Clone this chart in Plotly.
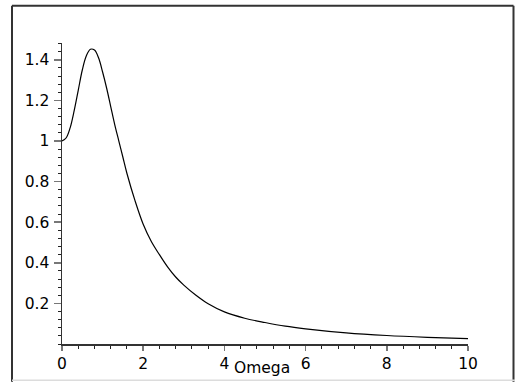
import plotly.graph_objects as go

# Data
omega = [0, 0.1, 0.2, 0.3, 0.4, 0.5, 0.6, 0.7, 0.8, 0.9, 1.0, 1.1, 1.2, 1.3,
         1.4, 1.5, 1.6, 1.8, 2.0, 2.2, 2.4, 2.6, 2.8, 3.0, 3.3, 3.6, 4.0,
         4.5, 5.0, 5.5, 6.0, 7.0, 8.0, 9.0, 10.0]
magnitude = [1.0, 1.015, 1.065, 1.15, 1.25, 1.35, 1.42, 1.452, 1.448, 1.41,
             1.34, 1.26, 1.17, 1.08, 1.0, 0.92, 0.84, 0.705, 0.59, 0.505,
             0.44, 0.38, 0.33, 0.29, 0.24, 0.198, 0.158, 0.127, 0.106, 0.088,
             0.075, 0.055, 0.042, 0.033, 0.026]
x_ticks = [0, 2, 4, 6, 8, 10]
x_labels = ["0", "2", "4", "6", "8", "10"]
y_ticks = [0.2, 0.4, 0.6, 0.8, 1.0, 1.2, 1.4]
y_labels = ["0.2", "0.4", "0.6", "0.8", "1", "1.2", "1.4"]
x_title = "Omega"

W, H = 515, 385
L, R, T, B = 62, 47, 43, 38
pw, ph = W - L - R, H - T - B


def px(x):
    return (x - L) / pw


def py(y):
    return (H - B - y) / ph


font = dict(family="DejaVu Sans, Liberation Sans, sans-serif", size=15.5, color="black")

fig = go.Figure()
fig.add_trace(go.Scatter(x=omega, y=magnitude, mode="lines",
                         line=dict(color="black", width=1.2, shape="spline", smoothing=1.0),
                         hoverinfo="skip", showlegend=False))

fig.update_layout(
    width=W, height=H,
    margin=dict(l=L, r=R, t=T, b=B),
    paper_bgcolor="white", plot_bgcolor="white",
    font=font,
    showlegend=False,
    xaxis=dict(range=[0, 10], showgrid=False, zeroline=False,
               showline=True, linecolor="#333", linewidth=1.5,
               tickmode="array", tickvals=x_ticks, ticktext=x_labels,
               ticks="outside", ticklen=5, tickcolor="#777", tickwidth=1.5,
               tickfont=font, ticklabelstandoff=0,
               minor=dict(dtick=0.4, tick0=0, ticks="outside", ticklen=3,
                          tickcolor="#222", tickwidth=1)),
    yaxis=dict(range=[0, 1.483], showgrid=False, zeroline=False,
               showline=True, linecolor="#333", linewidth=1.5,
               tickmode="array", tickvals=y_ticks, ticktext=y_labels,
               ticks="outside", ticklen=7, tickcolor="#777", tickwidth=1.5,
               tickfont=font, ticklabelstandoff=1,
               minor=dict(dtick=0.04, tick0=0, ticks="outside", ticklen=3,
                          tickcolor="#222", tickwidth=1)),
)

fig.add_annotation(text=x_title, xref="x", x=4.92, yref="paper", y=0,
                   yanchor="top", xanchor="center", yshift=-13,
                   showarrow=False, font=font)

# outer frame
frame = [
    (12, 5.5, 12, 385, "#333", 2),
    (12, 5.5, 513.5, 5.5, "#333", 2),
    (513.5, 5.5, 513.5, 385, "#333", 2),
    (12, 383.5, 515, 383.5, "#dcdcdc", 1.5),
]
for x0, y0, x1, y1, c, w in frame:
    fig.add_shape(type="line", xref="paper", yref="paper",
                  x0=px(x0), y0=py(y0), x1=px(x1), y1=py(y1),
                  line=dict(color=c, width=w))

fig.write_html("out.html",
               config={"displayModeBar": False, "staticPlot": True},
               post_script="document.body.style.margin='0px';"
                           "document.body.style.overflow='hidden';")
